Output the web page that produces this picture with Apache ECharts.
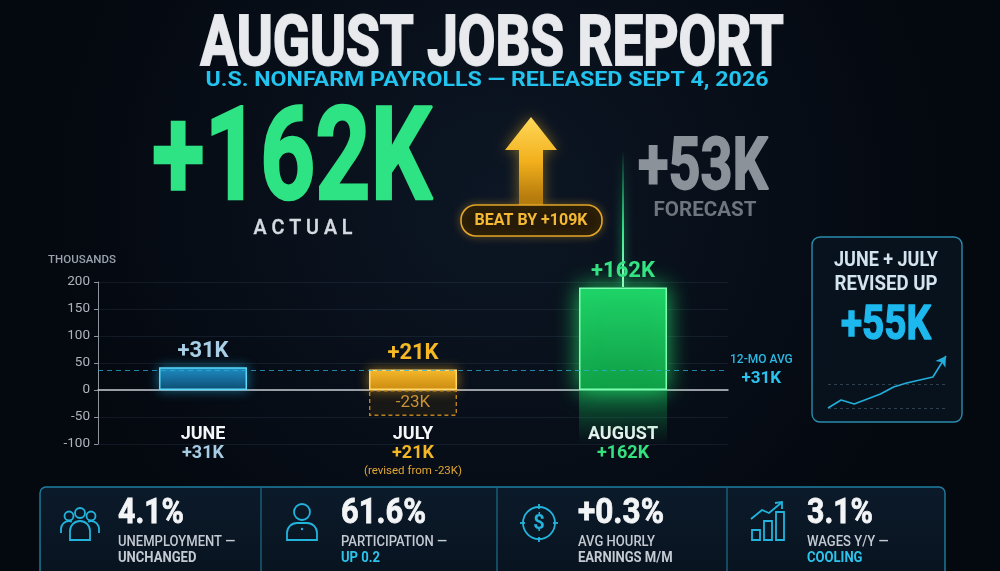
<!DOCTYPE html>
<html>
<head>
<meta charset="utf-8">
<title>August Jobs Report</title>
<script src="https://cdn.jsdelivr.net/npm/echarts@6/dist/echarts.min.js"></script>
<style>
  html, body { margin: 0; padding: 0; background: #060c16; }
  #main { width: 1000px; height: 571px; }
</style>
</head>
<body>
<div id="main"></div>
<script>
// ---- data (bar heights as drawn in the picture, labels as printed) ----
var months = ['JUNE', 'JULY', 'AUGUST'];
var barHeights = [42, 38, 190];
var barLabels = ['+31K', '+21K', '+162K'];
var monthNotes = ['', '(revised from -23K)', ''];
var revisedBox = [null, -48, null];
var revisedLabel = '-23K';
var reflection = [null, null, -100];
var avgValue = 37;
var avgLabel = ['12-MO AVG', '+31K'];
var yMin = -100, yMax = 200, yStep = 50;

var trendValues = [0, 8, 4, 9, 14, 21, 25, 28, 31, 52];
var trendGuides = [0, 24];

var statValues = ['4.1%', '61.6%', '+0.3%', '3.1%'];
var statLine1 = ['UNEMPLOYMENT \u2014', 'PARTICIPATION \u2014', 'AVG HOURLY', 'WAGES Y/Y \u2014'];
var statLine2 = ['UNCHANGED', 'UP 0.2', 'EARNINGS M/M', 'COOLING'];
var statAccent = [false, true, false, true];

var headline = {
  title: 'AUGUST JOBS REPORT',
  sub: 'U.S. NONFARM PAYROLLS \u2014 RELEASED SEPT 4, 2026',
  actual: '+162K',
  forecast: '+53K',
  beat: 'BEAT BY +109K',
  revisedTitle: ['JUNE + JULY', 'REVISED UP'],
  revisedValue: '+55K'
};

var FONT = 'Roboto, "Noto Sans", sans-serif';
var mctx = document.createElement('canvas').getContext('2d');
function fit(txt, font, w) {
  mctx.font = font;
  return w / mctx.measureText(txt).width;
}
function lg(stops) {
  return new echarts.graphic.LinearGradient(0, 0, 0, 1, stops.map(function (c, i) {
    return { offset: i / (stops.length - 1), color: c };
  }));
}
// centred text, squeezed to a target width; optional stroke to make it heavier
function txt(s, x, y, size, weight, fill, w, extra) {
  var font = weight + ' ' + size + 'px ' + FONT;
  var el = {
    type: 'text', x: x, y: y,
    scaleX: w ? fit(s, font, w) : 1,
    style: {
      text: s, font: font, fill: fill,
      textAlign: 'center', textVerticalAlign: 'middle'
    }
  };
  if (extra) {
    for (var k in extra) el.style[k] = extra[k];
  }
  return el;
}
function leftTxt(s, x, y, size, weight, fill, scale, extra) {
  var el = {
    type: 'text', x: x, y: y, scaleX: scale || 1,
    style: {
      text: s, font: weight + ' ' + size + 'px ' + FONT, fill: fill,
      textAlign: 'left', textVerticalAlign: 'middle'
    }
  };
  if (extra) {
    for (var k in extra) el.style[k] = extra[k];
  }
  return el;
}

var chart = echarts.init(document.getElementById('main'));

var cyan = '#22b4dc';
var graphics = [];

// headline block
graphics.push(txt(headline.title, 492, 47, 70, 'bold', '#e8eaed', 583,
  { stroke: '#dfe2e6', lineWidth: 2.2, shadowColor: 'rgba(0,0,0,0.7)', shadowBlur: 6 }));
graphics.push(txt(headline.sub, 487, 81, 21, 'bold', '#22c3ee', 563));
graphics.push(txt(headline.actual, 292, 166, 130, 'bold', '#2ee383', 280,
  { stroke: '#2ee383', lineWidth: 2.5, shadowColor: 'rgba(30,230,120,0.6)', shadowBlur: 22 }));
graphics.push(txt('A C T U A L', 303, 229, 20, '500', '#d6dbe1', 99, { stroke: '#d6dbe1', lineWidth: 0.4 }));
graphics.push({
  type: 'polygon',
  shape: { points: [[531, 117], [557, 150], [543, 150], [543, 206], [519, 206], [519, 150], [505, 150]] },
  style: { fill: lg(['#ffd95a', '#f2b01c', '#a8700a']), shadowColor: 'rgba(255,190,40,0.45)', shadowBlur: 14 }
});
graphics.push({
  type: 'rect',
  shape: { x: 461, y: 205, width: 141, height: 31, r: 15 },
  style: { fill: 'rgba(30,20,4,0.85)', stroke: '#e2a526', lineWidth: 1.6, shadowColor: 'rgba(255,180,40,0.35)', shadowBlur: 8 }
});
graphics.push(txt(headline.beat, 531, 221, 16, 'bold', '#f4b834', 113));
graphics.push(txt(headline.forecast, 703, 171, 72, 'bold', '#8c929a', 130, { stroke: '#8c929a', lineWidth: 1.8 }));
graphics.push(txt('FORECAST', 705, 211, 20, 'bold', '#6f757d', 103));
graphics.push({
  type: 'rect',
  shape: { x: 622, y: 150, width: 2, height: 137 },
  style: {
    fill: new echarts.graphic.LinearGradient(0, 0, 0, 1, [
      { offset: 0, color: 'rgba(40,240,140,0)' },
      { offset: 0.6, color: 'rgba(60,250,150,0.9)' },
      { offset: 1, color: '#b8ffd8' }
    ]),
    shadowColor: 'rgba(40,255,140,0.9)', shadowBlur: 8
  }
});

// revised-up box
graphics.push({
  type: 'rect',
  shape: { x: 812, y: 237, width: 150, height: 185, r: 8 },
  style: { fill: 'rgba(8,20,32,0.85)', stroke: '#2a8cad', lineWidth: 1.4 }
});
graphics.push(txt(headline.revisedTitle[0], 886, 261, 20, 'bold', '#d4e4ee', 104));
graphics.push(txt(headline.revisedTitle[1], 886, 285, 20, 'bold', '#d4e4ee', 103));
graphics.push(txt(headline.revisedValue, 886, 327, 48, 'bold', '#1cb8ee', 90,
  { stroke: '#1cb8ee', lineWidth: 1.4, shadowColor: 'rgba(30,180,240,0.4)', shadowBlur: 8 }));

// stats panel
graphics.push({
  type: 'rect',
  shape: { x: 40, y: 487, width: 905, height: 100, r: 6 },
  style: { fill: lg(['#0b1a2a', '#08121e']), stroke: '#1f7fa2', lineWidth: 1.4 }
});
[261, 497, 727].forEach(function (x) {
  graphics.push({ type: 'line', shape: { x1: x, y1: 488, x2: x, y2: 571 }, style: { stroke: '#1d6e8e', lineWidth: 1.2 } });
});
var statX = [118, 341, 578, 807];
var statW = [66, 85, 86, 66];
statValues.forEach(function (v, i) {
  var font = 'bold 35px ' + FONT;
  graphics.push(leftTxt(v, statX[i], 514, 35, 'bold', '#f2f4f6', fit(v, font, statW[i]), { stroke: '#f2f4f6', lineWidth: 0.8 }));
  graphics.push(leftTxt(statLine1[i], statX[i], 542, 14.5, '500', '#c4cad2', 0.9));
  graphics.push(leftTxt(statLine2[i], statX[i], 558, 14.5, 'bold', statAccent[i] ? '#2cc4ec' : '#c4cad2', 0.9));
});

// icons
var iconStyle = { fill: 'none', stroke: cyan, lineWidth: 1.8 };
function circ(cx, cy, r) { return { type: 'circle', shape: { cx: cx, cy: cy, r: r }, style: iconStyle }; }
function arc(cx, cy, r, a0, a1) { return { type: 'arc', shape: { cx: cx, cy: cy, r: r, startAngle: a0 * Math.PI, endAngle: a1 * Math.PI, clockwise: true }, style: iconStyle }; }
function ln(x1, y1, x2, y2) { return { type: 'line', shape: { x1: x1, y1: y1, x2: x2, y2: y2 }, style: iconStyle }; }
function box(x, y, w, h, r) { return { type: 'rect', shape: { x: x, y: y, width: w, height: h, r: r || 0 }, style: iconStyle }; }
// people
graphics.push(circ(69, 516, 4.5), circ(80, 513, 5), circ(91, 516, 4.5));
graphics.push(arc(69, 529, 8, 1, 1.62), ln(61, 529, 61, 533));
graphics.push(arc(91, 529, 8, 1.38, 2), ln(99, 529, 99, 533));
graphics.push(box(70, 521, 20, 19, [10, 10, 0, 0]));
// person
graphics.push(circ(302, 512, 8));
graphics.push(box(287, 523, 30, 17, [10, 10, 0, 0]));
graphics.push({ type: 'circle', shape: { cx: 302, cy: 529, r: 1.2 }, style: { fill: cyan } });
// dollar
graphics.push(circ(539, 523, 16));
graphics.push(ln(539, 504, 539, 509), ln(539, 537, 539, 542), ln(520, 523, 525, 523), ln(553, 523, 558, 523));
graphics.push(txt('$', 539, 524, 20, 'bold', cyan));
// growth bars
graphics.push(box(752, 530, 8, 10), box(764, 521, 8, 19), box(776, 512, 8, 28));
graphics.push({ type: 'polyline', shape: { points: [[751, 519], [762, 510], [769, 513], [781, 503]] }, style: iconStyle });
graphics.push({ type: 'polyline', shape: { points: [[775, 503], [782, 502], [782, 509]] }, style: iconStyle });

var option = {
  backgroundColor: new echarts.graphic.RadialGradient(0.5, 0.35, 0.8, [
    { offset: 0, color: '#0c1624' },
    { offset: 1, color: '#04080f' }
  ]),
  textStyle: { fontFamily: FONT },
  animation: false,
  graphic: graphics,
  grid: [
    { left: 98, top: 282, width: 630, height: 162 },
    { left: 828, top: 356, width: 118, height: 52 }
  ],
  xAxis: [
    {
      type: 'category', data: months, gridIndex: 0,
      axisLine: { onZero: true, lineStyle: { color: '#c7ccd2', width: 1.5 } },
      axisTick: { show: false },
      axisLabel: {
        margin: -19, interval: 0,
        formatter: function (v, i) {
          var keys = ['b', 'g', 'gr'];
          var s = '{m|' + v + '}\n{' + keys[i] + '|' + barLabels[i] + '}';
          if (monthNotes[i]) s += '\n{n|' + monthNotes[i] + '}';
          return s;
        },
        rich: {
          m: { color: '#f4f6f8', fontSize: 18, fontWeight: 'bold', lineHeight: 19, fontFamily: FONT },
          b: { color: '#a6cbe3', fontSize: 18, fontWeight: 'bold', lineHeight: 19, fontFamily: FONT },
          g: { color: '#f4b724', fontSize: 18, fontWeight: 'bold', lineHeight: 19, fontFamily: FONT },
          gr: { color: '#35e07e', fontSize: 18, fontWeight: 'bold', lineHeight: 19, fontFamily: FONT },
          n: { color: '#e0a634', fontSize: 11.5, lineHeight: 16, fontFamily: FONT }
        }
      }
    },
    { type: 'category', gridIndex: 1, data: trendValues.map(function (v, i) { return i; }), show: false, boundaryGap: false }
  ],
  yAxis: [
    {
      type: 'value', gridIndex: 0, min: yMin, max: yMax, interval: yStep,
      name: 'THOUSANDS', nameLocation: 'end', nameGap: 16,
      nameTextStyle: { color: '#9aa2ad', fontSize: 11.5, fontWeight: 500, padding: [0, 32, 0, 0] },
      axisLine: { show: true, lineStyle: { color: '#8b939d' } },
      axisTick: { show: true, length: 4, lineStyle: { color: '#8b939d' } },
      axisLabel: { color: '#aeb5bf', fontSize: 13.5, margin: 8 },
      splitLine: { lineStyle: { color: 'rgba(110,140,170,0.13)' } }
    },
    { type: 'value', gridIndex: 1, min: 0, max: 52, show: false }
  ],
  series: [
    {
      name: 'payrolls', type: 'bar', barWidth: 88, barGap: '-100%', z: 3,
      data: [
        {
          value: barHeights[0],
          itemStyle: { color: lg(['rgba(34,150,210,0.85)', 'rgba(12,70,110,0.85)']), borderColor: '#5ad8f6', borderWidth: 1.5, shadowColor: 'rgba(40,200,255,0.55)', shadowBlur: 12 },
          label: { color: '#a8cfe6' }
        },
        {
          value: barHeights[1],
          itemStyle: { color: lg(['#f6b92c', '#c98910']), borderColor: '#ffd868', borderWidth: 1.5, shadowColor: 'rgba(255,180,40,0.5)', shadowBlur: 12 },
          label: { color: '#f6b924' }
        },
        {
          value: barHeights[2],
          itemStyle: { color: lg(['#1fd368', '#0f9c45']), borderColor: '#7dffb0', borderWidth: 1.5, shadowColor: 'rgba(40,255,120,0.7)', shadowBlur: 22 },
          label: { color: '#34e482' }
        }
      ],
      label: {
        show: true, position: 'top', distance: 5,
        fontSize: 22, fontWeight: 'bold', fontFamily: FONT,
        formatter: function (p) { return barLabels[p.dataIndex]; }
      },
      markLine: {
        silent: true, symbol: 'none',
        lineStyle: { type: [5, 4], color: 'rgba(40,175,215,0.75)', width: 1 },
        label: {
          position: 'end', distance: 2,
          formatter: '{a|' + avgLabel[0] + '}\n{b|' + avgLabel[1] + '}',
          rich: {
            a: { color: '#2cb8e2', fontSize: 12, fontWeight: 500, align: 'center', lineHeight: 17, fontFamily: FONT },
            b: { color: '#2cc2ee', fontSize: 17, fontWeight: 'bold', align: 'center', lineHeight: 20, fontFamily: FONT }
          }
        },
        data: [{ yAxis: avgValue }]
      }
    },
    {
      name: 'revised', type: 'bar', barWidth: 88, z: 2,
      data: revisedBox,
      itemStyle: { color: 'rgba(120,80,10,0.15)', borderColor: '#b9821e', borderWidth: 1.4, borderType: [4, 3] },
      label: {
        show: true, position: 'inside', color: '#c99334', fontSize: 17, fontFamily: FONT,
        formatter: function () { return revisedLabel; }
      }
    },
    {
      name: 'reflection', type: 'bar', barWidth: 88, z: 1,
      data: reflection,
      itemStyle: {
        color: new echarts.graphic.LinearGradient(0, 0, 0, 1, [
          { offset: 0, color: 'rgba(20,190,90,0.45)' },
          { offset: 1, color: 'rgba(20,190,90,0)' }
        ])
      }
    },
    {
      name: 'trend', type: 'line', xAxisIndex: 1, yAxisIndex: 1,
      symbol: 'none', showSymbol: true, showAllSymbol: true,
      lineStyle: { color: '#22aedb', width: 1.6 },
      data: trendValues.map(function (v, i) {
        if (i === trendValues.length - 1) {
          return { value: v, symbol: 'arrow', symbolSize: [9, 10], symbolRotate: -34, itemStyle: { color: '#22aedb' } };
        }
        return v;
      }),
      markLine: {
        silent: true, symbol: 'none', label: { show: false },
        lineStyle: { type: [3, 3], color: 'rgba(120,150,170,0.35)', width: 1 },
        data: trendGuides.map(function (g) { return { yAxis: g }; })
      }
    }
  ]
};

chart.setOption(option);
</script>
</body>
</html>
